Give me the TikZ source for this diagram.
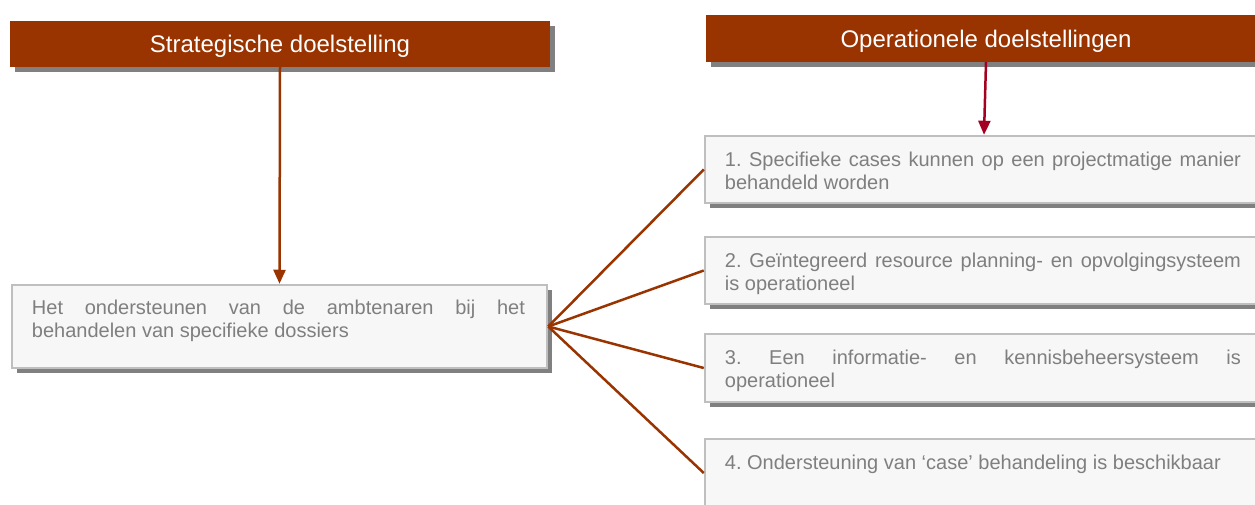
\documentclass[tikz,border=0pt]{standalone}
\usepackage{fontspec}
\setmainfont{Liberation Sans}
\usetikzlibrary{arrows.meta}
\definecolor{roest}{HTML}{993300}
\definecolor{karmijn}{HTML}{A50021}
\definecolor{schaduw}{HTML}{808080}
\definecolor{kader}{HTML}{BFBFBF}
\definecolor{vulling}{HTML}{F7F7F7}
\definecolor{tekst}{HTML}{7F7F7F}
\frenchspacing
\begin{document}
\begin{tikzpicture}[x=1pt, y=1pt,
	kop/.style={fill=roest, text=white, minimum height=46, inner sep=0, text depth=0, font=\fontsize{24}{28}\selectfont, preaction={fill=schaduw, transform canvas={xshift=5pt, yshift=-5pt}}},
	doos/.style={draw=kader, line width=2.5, fill=vulling, inner sep=0, preaction={fill=schaduw, transform canvas={xshift=5pt, yshift=-5pt}}},
	doostekst/.style={anchor=north west, inner sep=0, text=tekst, align=justify, font=\fontsize{20}{23.5}\selectfont},
	pijl/.style={line width=2.5, -{Triangle[width=12pt, length=14pt]}},
	lijn/.style={line width=2.5, roest}]
\useasboundingbox (0,0) rectangle (1255,504);
\clip (0,0) rectangle (1255,504);

		\node [kop, minimum width=540] (strat) at (280, 460) {Strategische doelstelling};
		\node [kop, minimum width=560, minimum height=47] (oper) at (986, 465.5) {Operationele doelstellingen};
		\node [doos, minimum width=535, minimum height=83] (doel) at (279.5, 177.5) {};
		\node [doos, minimum width=558, minimum height=67] (op1) at (984, 334.5) {};
		\node [doos, minimum width=558, minimum height=67] (op2) at (984, 233.5) {};
		\node [doos, minimum width=558, minimum height=68] (op3) at (984, 136) {};
		\node [doos, minimum width=558, minimum height=68] (op4) at (984, 31) {};

\node [doostekst, text width=493] (doeltxt) at ([shift={(21,-16)}]doel.north west) {Het ondersteunen van de ambtenaren bij het\linebreak behandelen van specifieke dossiers};
\node [doostekst, text width=516] (op1txt) at ([shift={(21,-17)}]op1.north west) {1. Specifieke cases kunnen op een projectmatige manier\linebreak behandeld worden};
\node [doostekst, text width=516] (op2txt) at ([shift={(21,-17)}]op2.north west) {2. Geïntegreerd resource planning- en opvolgingsysteem\linebreak is operationeel};
\node [doostekst, text width=516] (op3txt) at ([shift={(21,-17)}]op3.north west) {3. Een informatie- en kennisbeheersysteem is\linebreak operationeel};
\node [doostekst, text width=516] (op4txt) at ([shift={(21,-17)}]op4.north west) {4. Ondersteuning van ‘case’ behandeling is beschikbaar};

		\draw [pijl, roest] (strat.south) to (doel.north);
		\draw [pijl, karmijn] (oper.south) to (op1.north);
		\foreach \i in {1,...,4}
			\draw [lijn] (doel.east) to (op\i.west);
\end{tikzpicture}
\end{document}
